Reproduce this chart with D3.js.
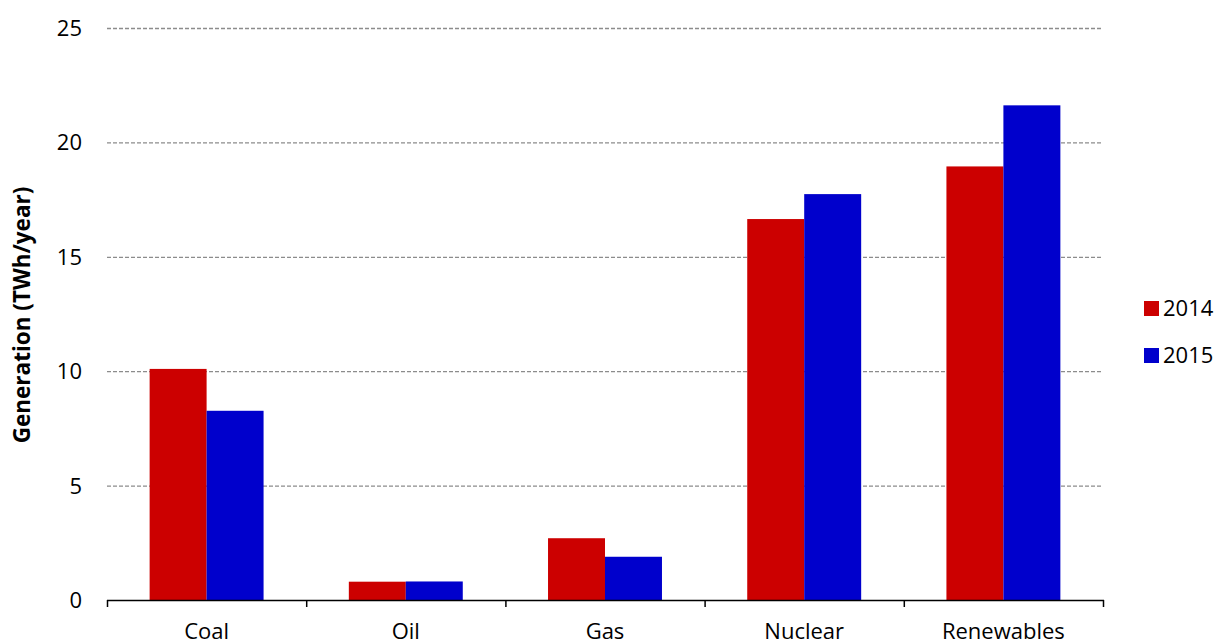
<!DOCTYPE html>
<html><head><meta charset="utf-8">
<script src="https://cdn.jsdelivr.net/npm/d3@7"></script>
<style>body{margin:0;background:#fff;} text{font-family:"Open Sans","Noto Sans",sans-serif;}</style>
</head><body><svg id="c" width="1220" height="644"></svg>
<script>
const categories = ["Coal","Oil","Gas","Nuclear","Renewables"];
const seriesNames = ["2014","2015"];
const values2014 = [10.1, 0.8, 2.7, 16.65, 18.95];
const values2015 = [8.27, 0.81, 1.89, 17.74, 21.62];
const yTicks = [0,5,10,15,20,25];
const colors = ["#cc0000","#0000cc"];

const svg = d3.select("#c");
const L=107, R=1103, T=28, B=600;
const x0 = d3.scaleBand().domain(categories).range([L,R]).paddingInner(0.428).paddingOuter(0.214);
const x1 = d3.scaleBand().domain(seriesNames).range([0,x0.bandwidth()]);
const y = d3.scaleLinear().domain([0,25]).range([B,T]);
const seriesVals = [values2014, values2015];

// grid
svg.append("g").selectAll("line").data(yTicks.filter(d=>d>0)).join("line")
  .attr("x1",L).attr("x2",R).attr("y1",d=>y(d)+0.5).attr("y2",d=>y(d)+0.5)
  .attr("stroke","#8c8c8c").attr("stroke-width",1.3).attr("stroke-dasharray","4,2");

// y labels
svg.append("g").selectAll("text").data(yTicks).join("text")
  .attr("x",82).attr("y",d=>y(d)).attr("dy","0.36em").attr("text-anchor","end")
  .attr("font-size",22).attr("fill","#000").text(d=>d);

// bars
const g = svg.append("g");
categories.forEach((c,i)=>{
  seriesNames.forEach((s,j)=>{
    g.append("rect").attr("x",x0(c)+x1(s)).attr("width",x1.bandwidth())
      .attr("y",y(seriesVals[j][i])).attr("height",B-y(seriesVals[j][i]))
      .attr("fill",colors[j]);
  });
});

// x axis
svg.append("line").attr("x1",L).attr("x2",R+1).attr("y1",B+0.5).attr("y2",B+0.5).attr("stroke","#000").attr("stroke-width",1.5);
const bounds = categories.map(c=>x0(c)-x0.step()*0.214).concat([R]);
svg.append("g").selectAll("line").data(bounds).join("line")
  .attr("x1",d=>d+0.5).attr("x2",d=>d+0.5).attr("y1",B).attr("y2",B+7).attr("stroke","#000").attr("stroke-width",1.5);
svg.append("g").selectAll("text").data(categories).join("text")
  .attr("x",c=>x0(c)+x0.bandwidth()/2).attr("y",639).attr("text-anchor","middle")
  .attr("font-size",22).attr("fill","#000").text(c=>c);

// y title
svg.append("text").attr("transform","translate(30,315) rotate(-90)").attr("text-anchor","middle")
  .attr("font-size",22.5).attr("font-weight","bold").text("Generation (TWh/year)");

// legend
seriesNames.forEach((s,j)=>{
  const ly = 308 + j*47;
  svg.append("rect").attr("x",1144).attr("y",ly-7).attr("width",15).attr("height",15).attr("fill",colors[j]);
  svg.append("text").attr("x",1163).attr("y",ly).attr("dy","0.36em").attr("font-size",22).text(s);
});
</script></body></html>
